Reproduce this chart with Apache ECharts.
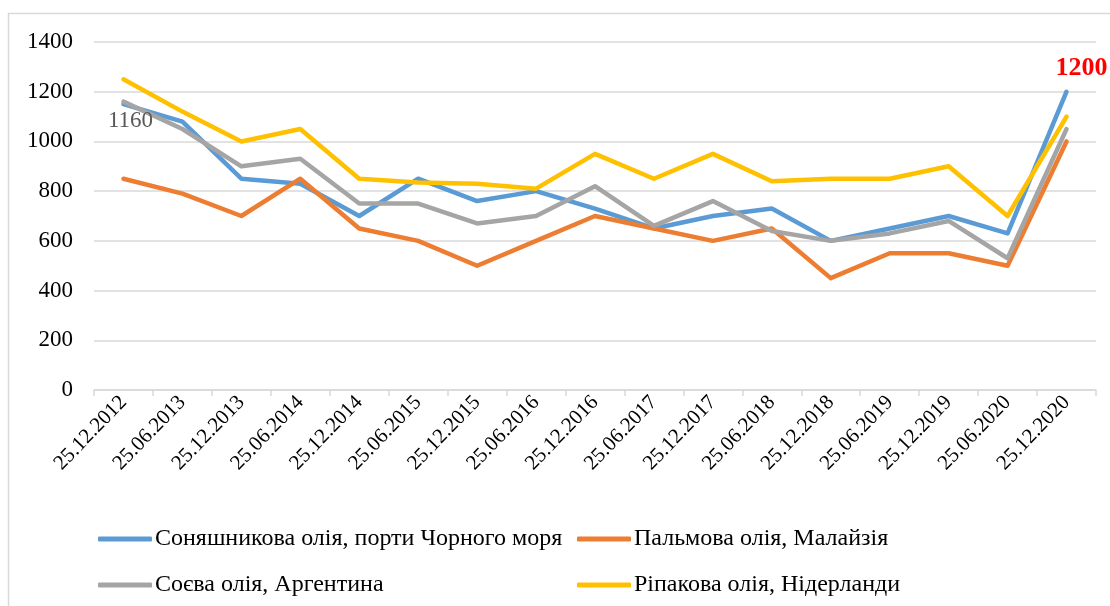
<!DOCTYPE html>
<html>
<head>
<meta charset="utf-8">
<script src="https://cdn.jsdelivr.net/npm/echarts@6/dist/echarts.min.js"></script>
<style>
  html, body { margin: 0; padding: 0; background: #fff; }
  #chart { width: 1110px; height: 606px; }
</style>
</head>
<body>
<div id="chart"></div>
<script>
  var dates = ['25.12.2012', '25.06.2013', '25.12.2013', '25.06.2014', '25.12.2014', '25.06.2015',
    '25.12.2015', '25.06.2016', '25.12.2016', '25.06.2017', '25.12.2017', '25.06.2018',
    '25.12.2018', '25.06.2019', '25.12.2019', '25.06.2020', '25.12.2020'];
  var sunflower = [1150, 1080, 850, 830, 700, 850, 760, 800, 730, 650, 700, 730, 600, 650, 700, 630, 1200];
  var palm = [850, 790, 700, 850, 650, 600, 500, 600, 700, 650, 600, 650, 450, 550, 550, 500, 1000];
  var soy = [1160, 1050, 900, 930, 750, 750, 670, 700, 820, 660, 760, 640, 600, 630, 680, 530, 1050];
  var rapeseed = [1250, 1120, 1000, 1050, 850, 835, 830, 810, 950, 850, 950, 840, 850, 850, 900, 700, 1100];
  var names = ['Соняшникова олія, порти Чорного моря', 'Пальмова олія, Малайзія',
    'Соєва олія, Аргентина', 'Ріпакова олія, Нідерланди'];
  var colors = ['#5B9BD5', '#ED7D31', '#A5A5A5', '#FFC000'];
  var serif = "'Liberation Serif', 'Times New Roman', serif";

  // підписи окремих точок
  var sunflowerData = sunflower.map(function (v, i) {
    if (i === sunflower.length - 1) {
      return { value: v, label: { show: true, position: 'top', offset: [15, -5],
        color: '#FF0000', fontWeight: 'bold', fontSize: 26, fontFamily: serif } };
    }
    return v;
  });
  var soyData = soy.map(function (v, i) {
    if (i === 0) {
      return { value: v, label: { show: true, position: 'bottom', offset: [7, 3],
        color: '#595959', fontSize: 23, fontFamily: serif } };
    }
    return v;
  });

  function line(name, data, color) {
    return {
      name: name,
      type: 'line',
      data: data,
      showSymbol: true,
      symbol: 'circle',
      symbolSize: 0,
      lineStyle: { color: color, width: 4.5, cap: 'round', join: 'round' },
      itemStyle: { color: color },
      label: { show: false },
      emphasis: { disabled: true },
      animation: false
    };
  }

  var myChart = echarts.init(document.getElementById('chart'));
  var legendCommon = {
    orient: 'vertical',
    itemWidth: 54,
    itemHeight: 5,
    itemGap: 22,
    icon: 'roundRect',
    textStyle: { fontFamily: serif, fontSize: 24, color: '#000', lineHeight: 20, padding: [0, 0, 0, -2] },
    padding: 0
  };
  myChart.setOption({
    backgroundColor: '#fff',
    graphic: [{
      type: 'rect',
      shape: { x: 8.5, y: 13.5, width: 1200, height: 700 },
      style: { fill: null, stroke: '#d9d9d9', lineWidth: 1.5 },
      silent: true
    }],
    legend: [
      Object.assign({ left: 98, top: 527, data: [names[0], names[2]] }, legendCommon),
      Object.assign({ left: 577, top: 527, data: [names[1], names[3]] }, legendCommon)
    ],
    grid: { left: 94, right: 14, top: 42, bottom: 216 },
    xAxis: {
      type: 'category',
      data: dates,
      boundaryGap: true,
      axisLine: { lineStyle: { color: '#d9d9d9', width: 1.5 } },
      axisTick: { show: true, length: 6, lineStyle: { color: '#d9d9d9', width: 1.5 } },
      axisLabel: { rotate: 46, interval: 0, fontFamily: serif, fontSize: 21, color: '#000', margin: 9 }
    },
    yAxis: {
      type: 'value',
      min: 0,
      max: 1400,
      interval: 200,
      axisLine: { show: false },
      axisTick: { show: false },
      splitLine: { lineStyle: { color: '#d9d9d9', width: 1.5 } },
      axisLabel: { fontFamily: serif, fontSize: 23, color: '#000', margin: 21,
        formatter: function (v) { return String(v); } }
    },
    series: [
      line(names[0], sunflowerData, colors[0]),
      line(names[1], palm, colors[1]),
      line(names[2], soyData, colors[2]),
      line(names[3], rapeseed, colors[3])
    ]
  });
</script>
</body>
</html>
